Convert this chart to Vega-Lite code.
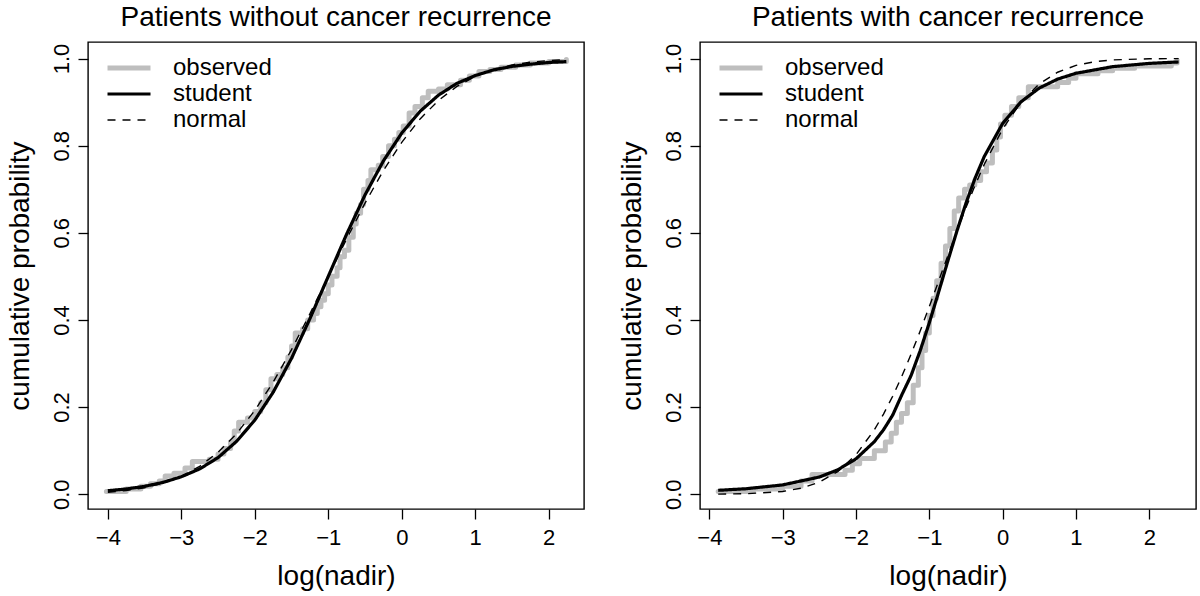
{
  "$schema": "https://vega.github.io/schema/vega-lite/v6.json",
  "background": "white",
  "padding": {"left": 5, "top": 3, "right": 0, "bottom": 0},
  "config": {
    "font": "Liberation Sans",
    "view": {"stroke": "black", "strokeWidth": 1.4},
    "axis": {"grid": false, "domain": false, "tickColor": "black", "tickSize": 10, "tickWidth": 1.3,
      "labelFont": "Liberation Sans", "labelFontSize": 22, "labelColor": "black",
      "titleFont": "Liberation Sans", "titleFontSize": 28, "titleFontWeight": "normal", "titleColor": "black"},
    "axisX": {"labelPadding": 8, "titlePadding": 14},
    "axisY": {"labelAngle": -90, "labelAlign": "center", "labelBaseline": "middle", "labelPadding": 17, "titlePadding": 16},
    "title": {"fontSize": 28, "fontWeight": "normal", "font": "Liberation Sans", "color": "black", "offset": 10},
    "legend": {"orient": "none", "legendX": 17, "legendY": 13, "symbolType": "stroke", "symbolSize": 1849,
      "clipHeight": 26, "rowPadding": 0, "padding": 0, "labelFont": "Liberation Sans", "labelFontSize": 24,
      "labelColor": "black", "labelOffset": 20, "title": null},
    "concat": {"spacing": 32}
  },
  "datasets": {
    "left_obs": [
      {"x": -4.02, "p": 0.006, "series": "observed"},
      {"x": -3.75, "p": 0.012, "series": "observed"},
      {"x": -3.55, "p": 0.018, "series": "observed"},
      {"x": -3.42, "p": 0.024, "series": "observed"},
      {"x": -3.3, "p": 0.03, "series": "observed"},
      {"x": -3.22, "p": 0.042, "series": "observed"},
      {"x": -3.1, "p": 0.048, "series": "observed"},
      {"x": -2.95, "p": 0.06, "series": "observed"},
      {"x": -2.85, "p": 0.075, "series": "observed"},
      {"x": -2.62, "p": 0.08, "series": "observed"},
      {"x": -2.5, "p": 0.092, "series": "observed"},
      {"x": -2.42, "p": 0.105, "series": "observed"},
      {"x": -2.33, "p": 0.12, "series": "observed"},
      {"x": -2.28, "p": 0.145, "series": "observed"},
      {"x": -2.22, "p": 0.165, "series": "observed"},
      {"x": -2.1, "p": 0.175, "series": "observed"},
      {"x": -2.0, "p": 0.19, "series": "observed"},
      {"x": -1.92, "p": 0.21, "series": "observed"},
      {"x": -1.85, "p": 0.24, "series": "observed"},
      {"x": -1.78, "p": 0.265, "series": "observed"},
      {"x": -1.7, "p": 0.275, "series": "observed"},
      {"x": -1.62, "p": 0.29, "series": "observed"},
      {"x": -1.55, "p": 0.315, "series": "observed"},
      {"x": -1.5, "p": 0.34, "series": "observed"},
      {"x": -1.45, "p": 0.37, "series": "observed"},
      {"x": -1.35, "p": 0.38, "series": "observed"},
      {"x": -1.28, "p": 0.4, "series": "observed"},
      {"x": -1.2, "p": 0.415, "series": "observed"},
      {"x": -1.15, "p": 0.43, "series": "observed"},
      {"x": -1.1, "p": 0.445, "series": "observed"},
      {"x": -1.05, "p": 0.46, "series": "observed"},
      {"x": -1.0, "p": 0.48, "series": "observed"},
      {"x": -0.95, "p": 0.5, "series": "observed"},
      {"x": -0.88, "p": 0.52, "series": "observed"},
      {"x": -0.84, "p": 0.545, "series": "observed"},
      {"x": -0.78, "p": 0.56, "series": "observed"},
      {"x": -0.72, "p": 0.59, "series": "observed"},
      {"x": -0.66, "p": 0.62, "series": "observed"},
      {"x": -0.62, "p": 0.645, "series": "observed"},
      {"x": -0.56, "p": 0.665, "series": "observed"},
      {"x": -0.52, "p": 0.7, "series": "observed"},
      {"x": -0.46, "p": 0.72, "series": "observed"},
      {"x": -0.42, "p": 0.745, "series": "observed"},
      {"x": -0.32, "p": 0.755, "series": "observed"},
      {"x": -0.26, "p": 0.775, "series": "observed"},
      {"x": -0.18, "p": 0.8, "series": "observed"},
      {"x": -0.1, "p": 0.815, "series": "observed"},
      {"x": -0.04, "p": 0.83, "series": "observed"},
      {"x": 0.02, "p": 0.845, "series": "observed"},
      {"x": 0.1, "p": 0.875, "series": "observed"},
      {"x": 0.18, "p": 0.89, "series": "observed"},
      {"x": 0.28, "p": 0.91, "series": "observed"},
      {"x": 0.36, "p": 0.925, "series": "observed"},
      {"x": 0.5, "p": 0.93, "series": "observed"},
      {"x": 0.62, "p": 0.94, "series": "observed"},
      {"x": 0.8, "p": 0.95, "series": "observed"},
      {"x": 0.92, "p": 0.96, "series": "observed"},
      {"x": 1.05, "p": 0.97, "series": "observed"},
      {"x": 1.2, "p": 0.975, "series": "observed"},
      {"x": 1.35, "p": 0.98, "series": "observed"},
      {"x": 1.55, "p": 0.985, "series": "observed"},
      {"x": 1.75, "p": 0.99, "series": "observed"},
      {"x": 2.0, "p": 0.993, "series": "observed"},
      {"x": 2.24, "p": 0.998, "series": "observed"}
    ],
    "left_fit": [
      {"x": -4.0, "p": 0.008, "series": "student"},
      {"x": -3.75, "p": 0.012, "series": "student"},
      {"x": -3.5, "p": 0.018, "series": "student"},
      {"x": -3.25, "p": 0.027, "series": "student"},
      {"x": -3.0, "p": 0.04, "series": "student"},
      {"x": -2.75, "p": 0.058, "series": "student"},
      {"x": -2.5, "p": 0.084, "series": "student"},
      {"x": -2.25, "p": 0.121, "series": "student"},
      {"x": -2.0, "p": 0.17, "series": "student"},
      {"x": -1.75, "p": 0.234, "series": "student"},
      {"x": -1.5, "p": 0.312, "series": "student"},
      {"x": -1.25, "p": 0.403, "series": "student"},
      {"x": -1.0, "p": 0.5, "series": "student"},
      {"x": -0.75, "p": 0.597, "series": "student"},
      {"x": -0.5, "p": 0.687, "series": "student"},
      {"x": -0.25, "p": 0.765, "series": "student"},
      {"x": 0.0, "p": 0.829, "series": "student"},
      {"x": 0.25, "p": 0.879, "series": "student"},
      {"x": 0.5, "p": 0.916, "series": "student"},
      {"x": 0.75, "p": 0.943, "series": "student"},
      {"x": 1.0, "p": 0.961, "series": "student"},
      {"x": 1.25, "p": 0.974, "series": "student"},
      {"x": 1.5, "p": 0.982, "series": "student"},
      {"x": 1.75, "p": 0.987, "series": "student"},
      {"x": 2.0, "p": 0.991, "series": "student"},
      {"x": 2.24, "p": 0.993, "series": "student"},
      {"x": -4.0, "p": 0.0045, "series": "normal"},
      {"x": -3.75, "p": 0.0084, "series": "normal"},
      {"x": -3.5, "p": 0.0149, "series": "normal"},
      {"x": -3.25, "p": 0.0252, "series": "normal"},
      {"x": -3.0, "p": 0.041, "series": "normal"},
      {"x": -2.75, "p": 0.064, "series": "normal"},
      {"x": -2.5, "p": 0.0961, "series": "normal"},
      {"x": -2.25, "p": 0.1385, "series": "normal"},
      {"x": -2.0, "p": 0.1922, "series": "normal"},
      {"x": -1.75, "p": 0.2572, "series": "normal"},
      {"x": -1.5, "p": 0.3318, "series": "normal"},
      {"x": -1.25, "p": 0.414, "series": "normal"},
      {"x": -1.0, "p": 0.5, "series": "normal"},
      {"x": -0.75, "p": 0.586, "series": "normal"},
      {"x": -0.5, "p": 0.6682, "series": "normal"},
      {"x": -0.25, "p": 0.7428, "series": "normal"},
      {"x": 0.0, "p": 0.8078, "series": "normal"},
      {"x": 0.25, "p": 0.8615, "series": "normal"},
      {"x": 0.5, "p": 0.9039, "series": "normal"},
      {"x": 0.75, "p": 0.936, "series": "normal"},
      {"x": 1.0, "p": 0.959, "series": "normal"},
      {"x": 1.25, "p": 0.9748, "series": "normal"},
      {"x": 1.5, "p": 0.9851, "series": "normal"},
      {"x": 1.75, "p": 0.9916, "series": "normal"},
      {"x": 2.0, "p": 0.9955, "series": "normal"},
      {"x": 2.24, "p": 0.9975, "series": "normal"}
    ],
    "right_obs": [
      {"x": -3.88, "p": 0.006, "series": "observed"},
      {"x": -3.4, "p": 0.012, "series": "observed"},
      {"x": -3.0, "p": 0.018, "series": "observed"},
      {"x": -2.75, "p": 0.03, "series": "observed"},
      {"x": -2.6, "p": 0.045, "series": "observed"},
      {"x": -2.15, "p": 0.055, "series": "observed"},
      {"x": -2.05, "p": 0.07, "series": "observed"},
      {"x": -1.95, "p": 0.082, "series": "observed"},
      {"x": -1.75, "p": 0.1, "series": "observed"},
      {"x": -1.6, "p": 0.12, "series": "observed"},
      {"x": -1.52, "p": 0.14, "series": "observed"},
      {"x": -1.45, "p": 0.165, "series": "observed"},
      {"x": -1.38, "p": 0.185, "series": "observed"},
      {"x": -1.3, "p": 0.21, "series": "observed"},
      {"x": -1.22, "p": 0.25, "series": "observed"},
      {"x": -1.15, "p": 0.29, "series": "observed"},
      {"x": -1.1, "p": 0.33, "series": "observed"},
      {"x": -1.05, "p": 0.37, "series": "observed"},
      {"x": -1.0, "p": 0.41, "series": "observed"},
      {"x": -0.95, "p": 0.45, "series": "observed"},
      {"x": -0.9, "p": 0.49, "series": "observed"},
      {"x": -0.84, "p": 0.53, "series": "observed"},
      {"x": -0.78, "p": 0.57, "series": "observed"},
      {"x": -0.72, "p": 0.61, "series": "observed"},
      {"x": -0.66, "p": 0.65, "series": "observed"},
      {"x": -0.6, "p": 0.68, "series": "observed"},
      {"x": -0.52, "p": 0.7, "series": "observed"},
      {"x": -0.45, "p": 0.71, "series": "observed"},
      {"x": -0.38, "p": 0.72, "series": "observed"},
      {"x": -0.3, "p": 0.74, "series": "observed"},
      {"x": -0.22, "p": 0.76, "series": "observed"},
      {"x": -0.14, "p": 0.79, "series": "observed"},
      {"x": -0.08, "p": 0.82, "series": "observed"},
      {"x": -0.03, "p": 0.85, "series": "observed"},
      {"x": 0.03, "p": 0.87, "series": "observed"},
      {"x": 0.12, "p": 0.89, "series": "observed"},
      {"x": 0.22, "p": 0.91, "series": "observed"},
      {"x": 0.35, "p": 0.935, "series": "observed"},
      {"x": 0.75, "p": 0.945, "series": "observed"},
      {"x": 0.9, "p": 0.955, "series": "observed"},
      {"x": 1.0, "p": 0.965, "series": "observed"},
      {"x": 1.3, "p": 0.972, "series": "observed"},
      {"x": 1.5, "p": 0.978, "series": "observed"},
      {"x": 1.8, "p": 0.983, "series": "observed"},
      {"x": 2.3, "p": 0.99, "series": "observed"},
      {"x": 2.38, "p": 0.996, "series": "observed"}
    ],
    "right_fit": [
      {"x": -3.88, "p": 0.0089, "series": "student"},
      {"x": -3.5, "p": 0.0125, "series": "student"},
      {"x": -3.0, "p": 0.0213, "series": "student"},
      {"x": -2.5, "p": 0.0394, "series": "student"},
      {"x": -2.25, "p": 0.0559, "series": "student"},
      {"x": -2.0, "p": 0.0812, "series": "student"},
      {"x": -1.75, "p": 0.1206, "series": "student"},
      {"x": -1.625, "p": 0.1478, "series": "student"},
      {"x": -1.5, "p": 0.1815, "series": "student"},
      {"x": -1.375, "p": 0.2282, "series": "student"},
      {"x": -1.25, "p": 0.272, "series": "student"},
      {"x": -1.125, "p": 0.3294, "series": "student"},
      {"x": -1.0, "p": 0.3937, "series": "student"},
      {"x": -0.875, "p": 0.463, "series": "student"},
      {"x": -0.75, "p": 0.5341, "series": "student"},
      {"x": -0.625, "p": 0.6035, "series": "student"},
      {"x": -0.5, "p": 0.6682, "series": "student"},
      {"x": -0.375, "p": 0.7259, "series": "student"},
      {"x": -0.25, "p": 0.7755, "series": "student"},
      {"x": 0.0, "p": 0.851, "series": "student"},
      {"x": 0.25, "p": 0.9006, "series": "student"},
      {"x": 0.5, "p": 0.9324, "series": "student"},
      {"x": 0.75, "p": 0.9529, "series": "student"},
      {"x": 1.0, "p": 0.9662, "series": "student"},
      {"x": 1.5, "p": 0.9814, "series": "student"},
      {"x": 2.0, "p": 0.9889, "series": "student"},
      {"x": 2.4, "p": 0.9922, "series": "student"},
      {"x": -3.88, "p": 0.0002, "series": "normal"},
      {"x": -3.5, "p": 0.001, "series": "normal"},
      {"x": -3.0, "p": 0.0062, "series": "normal"},
      {"x": -2.75, "p": 0.0136, "series": "normal"},
      {"x": -2.5, "p": 0.0275, "series": "normal"},
      {"x": -2.25, "p": 0.0518, "series": "normal"},
      {"x": -2.0, "p": 0.0906, "series": "normal"},
      {"x": -1.75, "p": 0.1477, "series": "normal"},
      {"x": -1.625, "p": 0.1838, "series": "normal"},
      {"x": -1.5, "p": 0.2249, "series": "normal"},
      {"x": -1.375, "p": 0.2708, "series": "normal"},
      {"x": -1.25, "p": 0.3209, "series": "normal"},
      {"x": -1.125, "p": 0.3745, "series": "normal"},
      {"x": -1.0, "p": 0.4308, "series": "normal"},
      {"x": -0.875, "p": 0.4884, "series": "normal"},
      {"x": -0.75, "p": 0.5463, "series": "normal"},
      {"x": -0.625, "p": 0.6032, "series": "normal"},
      {"x": -0.5, "p": 0.658, "series": "normal"},
      {"x": -0.375, "p": 0.7096, "series": "normal"},
      {"x": -0.25, "p": 0.7573, "series": "normal"},
      {"x": 0.0, "p": 0.8385, "series": "normal"},
      {"x": 0.25, "p": 0.8996, "series": "normal"},
      {"x": 0.5, "p": 0.9418, "series": "normal"},
      {"x": 0.75, "p": 0.9686, "series": "normal"},
      {"x": 1.0, "p": 0.9843, "series": "normal"},
      {"x": 1.25, "p": 0.9927, "series": "normal"},
      {"x": 1.5, "p": 0.9969, "series": "normal"},
      {"x": 2.0, "p": 0.9995, "series": "normal"},
      {"x": 2.4, "p": 0.9999, "series": "normal"}
    ]
  },
  "hconcat": [
    {
      "width": 496, "height": 467,
      "title": "Patients without cancer recurrence",
      "encoding": {
        "x": {"field": "x", "type": "quantitative", "scale": {"domain": [-4.27, 2.48], "nice": false, "zero": false},
          "axis": {"values": [-4, -3, -2, -1, 0, 1, 2], "format": "d", "title": "log(nadir)"}},
        "y": {"field": "p", "type": "quantitative", "scale": {"domain": [-0.034, 1.038], "nice": false, "zero": false},
          "axis": {"values": [0, 0.2, 0.4, 0.6, 0.8, 1.0], "format": ".1f", "title": "cumulative probability"}},
        "color": {"field": "series", "type": "nominal", "scale": {"domain": ["observed", "student", "normal"], "range": ["#BEBEBE", "#000000", "#000000"]}},
        "strokeDash": {"field": "series", "type": "nominal", "scale": {"domain": ["observed", "student", "normal"], "range": [[1, 0], [1, 0], [8, 7]]}},
        "strokeWidth": {"field": "series", "type": "nominal", "scale": {"domain": ["observed", "student", "normal"], "range": [5, 1.4, 1.4]}}
      },
      "layer": [
        {"data": {"name": "left_obs"}, "mark": {"type": "line", "interpolate": "step-after", "strokeCap": "round", "strokeJoin": "round"}},
        {"data": {"name": "left_fit"}, "mark": {"type": "line"}}
      ]
    },
    {
      "width": 496, "height": 467,
      "title": "Patients with cancer recurrence",
      "encoding": {
        "x": {"field": "x", "type": "quantitative", "scale": {"domain": [-4.128, 2.637], "nice": false, "zero": false},
          "axis": {"values": [-4, -3, -2, -1, 0, 1, 2], "format": "d", "title": "log(nadir)"}},
        "y": {"field": "p", "type": "quantitative", "scale": {"domain": [-0.034, 1.038], "nice": false, "zero": false},
          "axis": {"values": [0, 0.2, 0.4, 0.6, 0.8, 1.0], "format": ".1f", "title": "cumulative probability"}},
        "color": {"field": "series", "type": "nominal", "scale": {"domain": ["observed", "student", "normal"], "range": ["#BEBEBE", "#000000", "#000000"]}},
        "strokeDash": {"field": "series", "type": "nominal", "scale": {"domain": ["observed", "student", "normal"], "range": [[1, 0], [1, 0], [8, 7]]}},
        "strokeWidth": {"field": "series", "type": "nominal", "scale": {"domain": ["observed", "student", "normal"], "range": [5, 1.4, 1.4]}}
      },
      "layer": [
        {"data": {"name": "right_obs"}, "mark": {"type": "line", "interpolate": "step-after", "strokeCap": "round", "strokeJoin": "round"}},
        {"data": {"name": "right_fit"}, "mark": {"type": "line"}}
      ]
    }
  ],
  "resolve": {
    "scale": {"color": "independent", "strokeDash": "independent", "strokeWidth": "independent"},
    "legend": {"color": "independent", "strokeDash": "independent", "strokeWidth": "independent"}
  }
}
